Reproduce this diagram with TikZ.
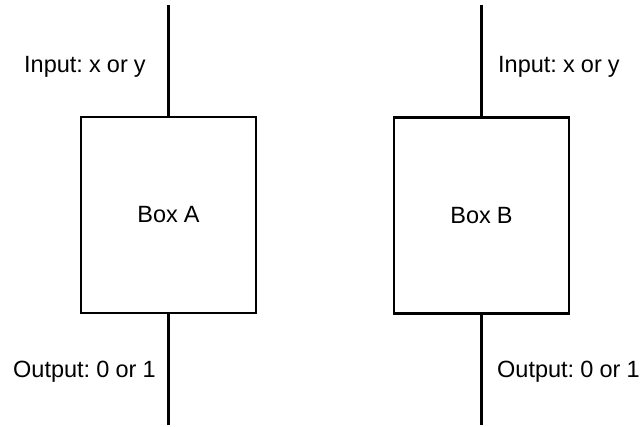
\documentclass[tikz,border=0pt]{standalone}
\usepackage{fontspec}
\setmainfont{Liberation Sans}
\frenchspacing
\newcommand\mylabfont{\fontsize{23.5}{28}\selectfont\frenchspacing\spaceskip=0.26em plus 0.1em minus 0.05em\relax}
\begin{document}
\begin{tikzpicture}[x=1pt,y=-1pt,
  every node/.style={font=\mylabfont},
  box/.style={draw, line width=2.2pt, minimum width=175pt, minimum height=196pt, inner sep=0pt},
  wire/.style={line width=2.2pt},
  lab/.style={anchor=base west, inner sep=0pt}]
\useasboundingbox (0,0) rectangle (641,427);
\node[box] (A) at (168.5,215) {Box A};
\node[box] (B) at (481.5,215.5) {Box B};
\coordinate (atop) at (168.5,5);
\coordinate (abot) at (168.5,425);
\coordinate (btop) at (481.5,5);
\coordinate (bbot) at (481.5,425);
\draw[wire] (atop) -- (A.north);
\draw[wire] (A.south) -- (abot);
\draw[wire] (btop) -- (B.north);
\draw[wire] (B.south) -- (bbot);
\node[lab] (ina) at (24,73) {Input: x or y};
\node[lab] (outa) at (13,378) {Output: 0 or 1};
\node[lab] (inb) at (498,73) {Input: x or y};
\node[lab] (outb) at (497,378) {Output: 0 or 1};
\end{tikzpicture}
\end{document}
